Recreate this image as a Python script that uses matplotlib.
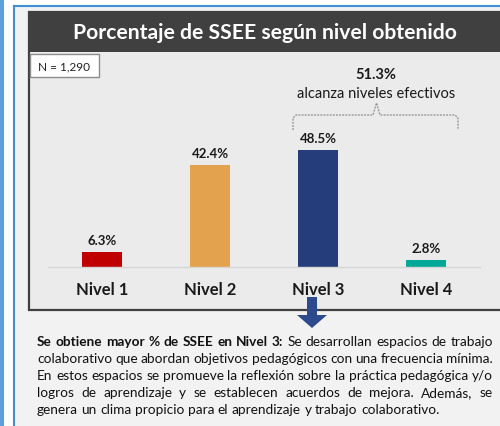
import matplotlib
matplotlib.use('Agg')
from matplotlib import pyplot as plt
from matplotlib.patches import Rectangle, Polygon
import numpy as np

# datos del grafico
niveles = ['Nivel 1', 'Nivel 2', 'Nivel 3', 'Nivel 4']
porcentajes = [6.3, 42.4, 48.5, 2.8]
colores = ['#c00000', '#e3a24e', '#263d7b', '#00a896']
titulo = 'Porcentaje de SSEE según nivel obtenido'
n_texto = 'N = 1,290'
efectivos = 51.3
efectivos_texto = 'alcanza niveles efectivos'

# parrafo de conclusion (la primera parte va en negrita)
negrita = 'Se obtiene mayor % de SSEE en Nivel 3:'
parrafo = [
    'Se obtiene mayor % de SSEE en Nivel 3: Se desarrollan espacios de trabajo',
    'colaborativo que abordan objetivos pedagógicos con una frecuencia mínima.',
    'En estos espacios se promueve la reflexión sobre la práctica pedagógica y/o',
    'logros de aprendizaje y se establecen acuerdos de mejora. Además, se',
    'genera un clima propicio para el aprendizaje y trabajo colaborativo.',
]

plt.rcParams['font.family'] = ['Lato', 'DejaVu Sans']

W, H = 500, 427
fig = plt.figure(figsize=(W / 100, H / 100), dpi=100)
fig.patch.set_facecolor('white')

# capa de fondo en coordenadas de pixel
bg = fig.add_axes([0, 0, 1, 1], zorder=0)
bg.set_xlim(0, W)
bg.set_ylim(H, 0)
bg.axis('off')

bg.add_patch(Rectangle((1, -5), 1.5, H + 10, fc='none', ec='#3d8fd6', lw=1.2))
bg.add_patch(Rectangle((14, 7), W, H, fc='#f2f2f2', ec='#3d8fd6', lw=1.5))
bg.add_patch(Rectangle((29, 13), W, 298, fc='#ebebeb', ec='#404040', lw=1.6))
bg.add_patch(Rectangle((29, 13), W, 40, fc='#404040', ec='none'))
bg.text(265, 33, titulo, color='white', fontsize=15.2, fontweight='bold',
        ha='center', va='center')

bg.add_patch(Rectangle((30, 55), 69, 23, fc='white', ec='#8c8c8c', lw=1))
bg.text(64.5, 66.5, n_texto, fontsize=8.5, ha='center', va='center', color='#222222')

# llave punteada sobre niveles 3 y 4
bx = [293, 293, 296, 373, 376.5, 380, 455, 458, 458]
by = [131, 119, 116, 116, 104, 116, 116, 119, 131]
bg.plot(bx, by, color='#8a8a8a', lw=0.9, ls=(0, (1.5, 1)))
bg.text(376, 75, f'{efectivos}%', fontsize=10.5, fontweight='bold',
        ha='center', va='center', color='#1a1a1a')
bg.text(376, 94, efectivos_texto, fontsize=10.5, ha='center', va='center',
        color='#1a1a1a')

# flecha hacia el texto
flecha = [(307, 298), (317, 298), (317, 316), (327, 316), (312, 329),
          (297, 316), (307, 316)]
bg.add_patch(Polygon(flecha, closed=True, fc='#2c4a8c', ec='none'))

# barras
ax = fig.add_axes([48 / W, (H - 268) / H, 432 / W, 132.5 / H], zorder=1)
ax.patch.set_alpha(0)
x = np.arange(len(niveles))
ax.bar(x, porcentajes, width=0.37, color=colores)
ax.set_xlim(-0.5, 3.5)
ax.set_ylim(0, 55)
for xi, v in zip(x, porcentajes):
    ax.text(xi, v + 2.6, f'{v}%', ha='center', va='bottom', fontsize=9.5,
            fontweight='bold', color='#1a1a1a', clip_on=False)
ax.set_xticks(x)
ax.set_xticklabels(niveles, fontsize=12, fontweight='bold', color='#1a1a1a')
ax.tick_params(axis='x', length=0, pad=10)
ax.set_yticks([])
for s in ['top', 'left', 'right']:
    ax.spines[s].set_visible(False)
ax.spines['bottom'].set_color('#d6d6d6')
ax.spines['bottom'].set_linewidth(1)

# parrafo justificado, palabra por palabra
r = fig.canvas.get_renderer()
x0, x1 = 37, 493
n_neg = len(negrita.split())
fs = 9.8
for i, linea in enumerate(parrafo):
    y = 342 + i * 17
    palabras = linea.split()
    pesos = ['bold' if (i == 0 and k < n_neg) else 'normal' for k in range(len(palabras))]
    textos = [bg.text(0, y, p, fontsize=fs, fontweight=w, va='center', ha='left',
                      color='#111111') for p, w in zip(palabras, pesos)]
    anchos = [t.get_window_extent(renderer=r).width for t in textos]
    esp = bg.text(0, y, 'a a', fontsize=fs).get_window_extent(renderer=r).width - \
        2 * bg.text(0, y, 'a', fontsize=fs).get_window_extent(renderer=r).width
    bg.texts[-1].remove()
    bg.texts[-1].remove()
    if i < len(parrafo) - 1:
        esp = (x1 - x0 - sum(anchos)) / (len(palabras) - 1)
    xp = x0
    for t, a in zip(textos, anchos):
        t.set_x(xp)
        xp += a + esp

fig.savefig('out.png', dpi=100)
